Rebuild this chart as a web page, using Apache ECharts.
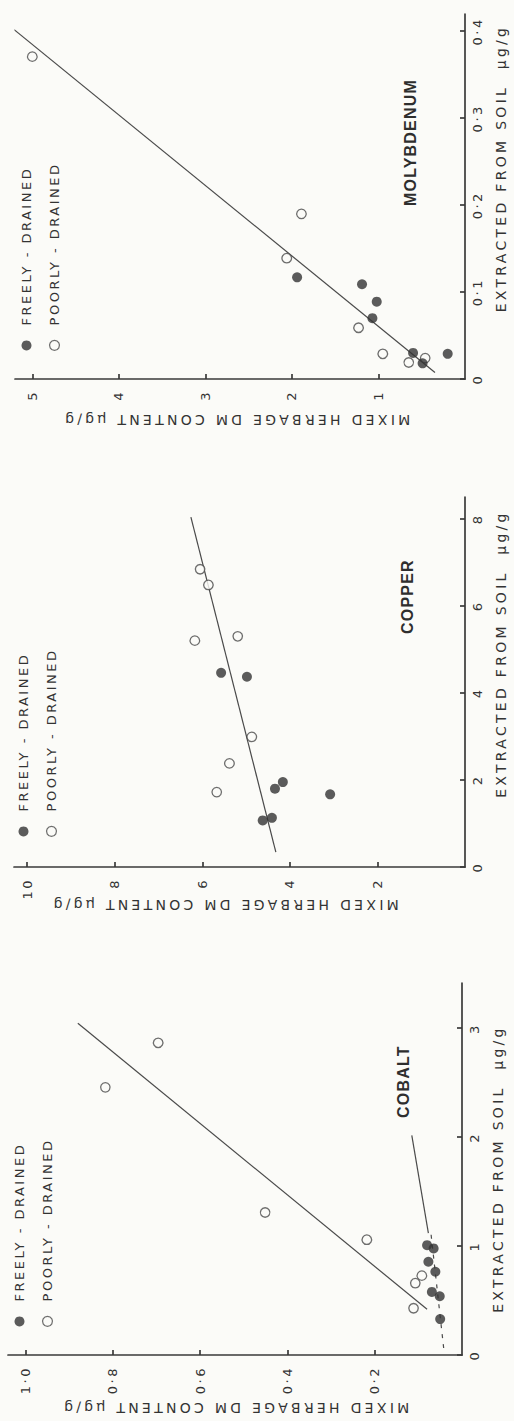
<!DOCTYPE html>
<html>
<head>
<meta charset="utf-8">
<script src="https://cdn.jsdelivr.net/npm/echarts@6/dist/echarts.min.js"></script>
<style>
html, body { margin: 0; padding: 0; background: #fbfbf8; overflow: hidden; width: 514px; height: 1421px; }
/* the figure is printed on its side, so the whole chart is turned a quarter turn */
#chart { position: absolute; left: 0; top: 0; width: 1421px; height: 514px;
  transform-origin: 0 0; transform: translateY(1421px) rotate(-90deg); }
#chart text { letter-spacing: 2.5px; }
</style>
</head>
<body>
<div id="chart"></div>
<script>
// [extracted from soil, herbage content]
var cobaltFreely = [[1.01,0.080],[0.98,0.065],[0.857,0.077],[0.765,0.061],[0.58,0.069],[0.54,0.051],[0.33,0.050]];
var cobaltPoorly = [[2.87,0.696],[2.46,0.817],[1.31,0.451],[1.06,0.218],[0.43,0.111],[0.66,0.107],[0.73,0.092]];
var cobaltFit = [[0.42,0.080],[3.05,0.880]];
var cobaltFreelyFit = [[0.064,0.042],[1.15,0.072]];
var cobaltPointer = [[2.02,0.115],[1.12,0.077]];

var copperFreely = [[4.46,5.57],[4.37,4.98],[1.80,4.34],[1.95,4.16],[1.67,3.08],[1.07,4.62],[1.13,4.41]];
var copperPoorly = [[6.84,6.05],[6.48,5.86],[5.20,6.17],[5.30,5.19],[2.99,4.87],[2.38,5.38],[1.72,5.67]];
var copperFit = [[0.34,4.32],[8.04,6.26]];

var molyFreely = [[0.117,1.94],[0.109,1.19],[0.089,1.02],[0.070,1.07],[0.030,0.60],[0.018,0.49],[0.029,0.20]];
var molyPoorly = [[0.371,5.00],[0.190,1.89],[0.139,2.06],[0.059,1.23],[0.029,0.95],[0.019,0.65],[0.024,0.46]];
var molyFit = [[0.0075,0.347],[0.402,5.21]];

var cobaltXTicks = [0, 1, 2, 3];
var cobaltXLabels = ['0', '1', '2', '3'];
var cobaltYTicks = [0.2, 0.4, 0.6, 0.8, 1.0];
var cobaltYLabels = ['0·2', '0·4', '0·6', '0·8', '1·0'];
var copperXTicks = [0, 2, 4, 6, 8];
var copperXLabels = ['0', '2', '4', '6', '8'];
var copperYTicks = [2, 4, 6, 8, 10];
var copperYLabels = ['2', '4', '6', '8', '10'];
var molyXTicks = [0, 0.1, 0.2, 0.3, 0.4];
var molyXLabels = ['0', '0·1', '0·2', '0·3', '0·4'];
var molyYTicks = [1, 2, 3, 4, 5];
var molyYLabels = ['1', '2', '3', '4', '5'];

var elements = ['COBALT', 'COPPER', 'MOLYBDENUM'];
var legendNames = ['FREELY - DRAINED', 'POORLY - DRAINED'];
var xName = 'EXTRACTED FROM SOIL  µg/g';
var yName = 'MIXED HERBAGE DM CONTENT µg/g';

var ink = '#333';
var bg = '#fbfbf8';
var font = 'DejaVu Sans';

var panels = [
  { grid: {left: 66, right: 983, top: 8, bottom: 52}, xMax: 3.42, yMax: 1.04,
    xTicks: cobaltXTicks, xLabels: cobaltXLabels, yTicks: cobaltYTicks, yLabels: cobaltYLabels,
    freely: cobaltFreely, poorly: cobaltPoorly, fit: cobaltFit, yGap: 46, xShift: 0, yShift: 0,
    legend: {left: 94, top: 13}, title: {left: 303, top: 395} },
  { grid: {left: 554, right: 497, top: 14, bottom: 49}, xMax: 8.5, yMax: 10.3,
    xTicks: copperXTicks, xLabels: copperXLabels, yTicks: copperYTicks, yLabels: copperYLabels,
    freely: copperFreely, poorly: copperPoorly, fit: copperFit, yGap: 31, xShift: 56, yShift: 30,
    legend: {left: 584, top: 17}, title: {left: 787, top: 399} },
  { grid: {left: 1042, right: 14, top: 15, bottom: 49}, xMax: 0.42, yMax: 5.2,
    xTicks: molyXTicks, xLabels: molyXLabels, yTicks: molyYTicks, yLabels: molyYLabels,
    freely: molyFreely, poorly: molyPoorly, fit: molyFit, yGap: 34, xShift: 56, yShift: 8,
    legend: {left: 1070, top: 20}, title: {left: 1215, top: 402} }
];

function labeller(ticks, labels) {
  return function (v) {
    for (var i = 0; i < ticks.length; i++) {
      if (Math.abs(ticks[i] - v) < 1e-9) return labels[i];
    }
    return '';
  };
}

var lineSt = {color: '#3a3a3a', width: 1.7};
var grids = [], xAxes = [], yAxes = [], series = [], legends = [], titles = [];

panels.forEach(function (p, i) {
  grids.push(p.grid);
  xAxes.push({
    gridIndex: i, type: 'value', min: 0, max: p.xMax, position: 'bottom',
    axisLine: {show: true, onZero: false, lineStyle: lineSt},
    axisTick: {show: true, inside: true, length: 5, customValues: p.xTicks, lineStyle: lineSt},
    axisLabel: {customValues: p.xTicks, formatter: labeller(p.xTicks, p.xLabels), margin: 6,
      fontSize: 13, color: ink, fontFamily: font},
    splitLine: {show: false},
    name: xName, nameLocation: 'middle', nameGap: 29,
    nameTextStyle: {fontSize: 14, color: ink, fontFamily: font, padding: [0, 0, 0, p.xShift]}
  });
  yAxes.push({
    gridIndex: i, type: 'value', min: 0, max: p.yMax, position: 'left',
    axisLine: {show: true, onZero: false, lineStyle: lineSt},
    axisTick: {show: true, inside: true, length: 5, customValues: p.yTicks, lineStyle: lineSt},
    axisLabel: {customValues: p.yTicks, formatter: labeller(p.yTicks, p.yLabels), margin: 11,
      fontSize: 13, color: ink, fontFamily: font},
    splitLine: {show: false},
    name: yName, nameLocation: 'middle', nameGap: p.yGap,
    nameTextStyle: {fontSize: 14, color: ink, fontFamily: font, padding: [0, 0, 0, p.yShift]}
  });
  series.push({
    type: 'line', xAxisIndex: i, yAxisIndex: i, data: p.fit, symbol: 'none', silent: true,
    lineStyle: {color: '#4a4a4a', width: 1.2}, z: 2
  });
  series.push({
    type: 'scatter', name: legendNames[0], xAxisIndex: i, yAxisIndex: i, data: p.freely,
    symbol: 'circle', symbolSize: 10, itemStyle: {color: ink}, z: 4
  });
  series.push({
    type: 'scatter', name: legendNames[1], xAxisIndex: i, yAxisIndex: i, data: p.poorly,
    symbol: 'circle', symbolSize: 9.5, itemStyle: {color: bg, borderColor: '#4a4a4a', borderWidth: 1.3}, z: 3
  });
  legends.push({
    data: legendNames, orient: 'vertical', left: p.legend.left, top: p.legend.top, padding: 0,
    itemWidth: 10, itemHeight: 10, itemGap: 15, icon: 'circle', selectedMode: false,
    itemStyle: {borderWidth: 1.2},
    textStyle: {fontSize: 13, color: ink, fontFamily: font, padding: [0, 0, 0, 10]}
  });
  titles.push({
    text: elements[i], left: p.title.left, top: p.title.top, padding: 0,
    textStyle: {fontSize: 16, fontWeight: 'bold', color: '#2e2e2e', fontFamily: 'Liberation Sans'}
  });
});

// cobalt: dashed line through the freely-drained soils, and the pointer from the label
series.push({
  type: 'line', xAxisIndex: 0, yAxisIndex: 0, data: cobaltFreelyFit, symbol: 'none', silent: true,
  lineStyle: {color: '#4a4a4a', width: 1.2, type: [4, 6]}, z: 2
});
series.push({
  type: 'line', xAxisIndex: 0, yAxisIndex: 0, data: cobaltPointer, symbol: 'none', silent: true,
  lineStyle: {color: '#4a4a4a', width: 1.2}, z: 2
});

var chart = echarts.init(document.getElementById('chart'), null, {renderer: 'svg', width: 1421, height: 514});
chart.setOption({
  animation: false,
  backgroundColor: bg,
  title: titles,
  legend: legends,
  grid: grids,
  xAxis: xAxes,
  yAxis: yAxes,
  series: series
});

// the stencilled captions are spaced wider than the element names
function spaceText() {
  var texts = document.querySelectorAll('#chart text');
  texts.forEach(function (t) {
    var s = t.textContent;
    if (elements.indexOf(s) >= 0) t.style.letterSpacing = '1.2px';
    else if (s === xName || s === yName) t.style.letterSpacing = '3.3px';
  });
}
chart.on('finished', spaceText);
spaceText();
</script>
</body>
</html>
